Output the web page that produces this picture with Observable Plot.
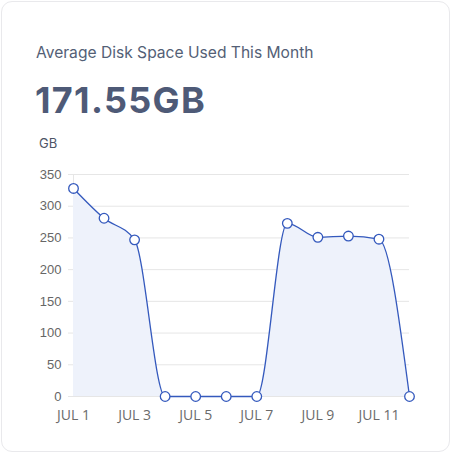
<!DOCTYPE html>
<html>
<head>
<meta charset="utf-8">
<script src="https://cdn.jsdelivr.net/npm/d3@7"></script>
<script src="https://cdn.jsdelivr.net/npm/@observablehq/plot@0.6"></script>
<style>
  html, body { margin: 0; padding: 0; background: #ffffff; }
  body { width: 453px; height: 455px; position: relative; overflow: hidden; font-family: Inter, "Noto Sans", sans-serif; }
  .card { position: absolute; left: 1px; top: 1px; width: 449px; height: 451px; border: 1px solid #e9e9ec; border-radius: 11px; box-sizing: border-box; }
  .title { position: absolute; left: 36px; top: 43px; font-size: 15.6px; color: #545f76; white-space: nowrap; }
  .big { position: absolute; left: 35px; top: 78px; font-size: 36px; font-weight: 700; color: #4e5a77; letter-spacing: 1.3px; white-space: nowrap; }
  .unit { position: absolute; left: 39px; top: 135px; font-size: 13px; color: #4d5567; }
  #chart { position: absolute; left: 0; top: 150px; }
</style>
</head>
<body>
<div class="card"></div>
<div class="title">Average Disk Space Used This Month</div>
<div class="big">171.55GB</div>
<div class="unit">GB</div>
<div id="chart"></div>
<script>
const dates = ["2023-07-01","2023-07-02","2023-07-03","2023-07-04","2023-07-05","2023-07-06","2023-07-07","2023-07-08","2023-07-09","2023-07-10","2023-07-11","2023-07-12"];
const usedGB = [328, 281, 247, 0, 0, 0, 0, 273, 251, 253, 248, 0];
const yTicks = [0, 50, 100, 150, 200, 250, 300, 350];
const xTickDates = ["2023-07-01","2023-07-03","2023-07-05","2023-07-07","2023-07-09","2023-07-11"];

const data = dates.map((d, i) => ({date: new Date(d + "T00:00:00Z"), value: usedGB[i]}));
const monthNames = ["JAN","FEB","MAR","APR","MAY","JUN","JUL","AUG","SEP","OCT","NOV","DEC"];

const plot = Plot.plot({
  width: 453,
  height: 280,
  marginLeft: 73,
  marginRight: 44,
  marginTop: 24,
  marginBottom: 34,
  style: { fontFamily: "'Open Sans', sans-serif", fontSize: "12px", color: "#666", background: "transparent" },
  x: { type: "utc", domain: [new Date(dates[0] + "T00:00:00Z"), new Date(dates[dates.length - 1] + "T00:00:00Z")] },
  y: { domain: [0, 350] },
  marks: [
    Plot.gridY(yTicks, { stroke: "#e6e6e6", strokeOpacity: 1 }),
    Plot.ruleX([new Date(dates[0] + "T00:00:00Z")], { stroke: "#e6e6e6", y1: 0, y2: 350 }),
    Plot.areaY(data, { x: "date", y: "value", curve: "monotone-x", fill: "#eef2fb", fillOpacity: 1 }),
    Plot.lineY(data, { x: "date", y: "value", curve: "monotone-x", stroke: "#3459bd", strokeWidth: 1.3 }),
    Plot.axisY(yTicks, { tickSize: 5, tickPadding: 7, stroke: "#e6e6e6", fill: "#666", label: null, fontSize: 13, fontFamily: "'Liberation Sans', Arial, sans-serif" }),
    Plot.axisX(xTickDates.map(d => new Date(d + "T00:00:00Z")), {
      tickSize: 0, tickPadding: 14, fill: "#6b6b6b", label: null, fontSize: 14,
      tickFormat: d => monthNames[d.getUTCMonth()] + " " + d.getUTCDate()
    }),
    Plot.dot(data, { x: "date", y: "value", r: 4.8, fill: "#ffffff", stroke: "#3459bd", strokeWidth: 1.3 })
  ]
});
document.getElementById("chart").appendChild(plot);
</script>
</body>
</html>
